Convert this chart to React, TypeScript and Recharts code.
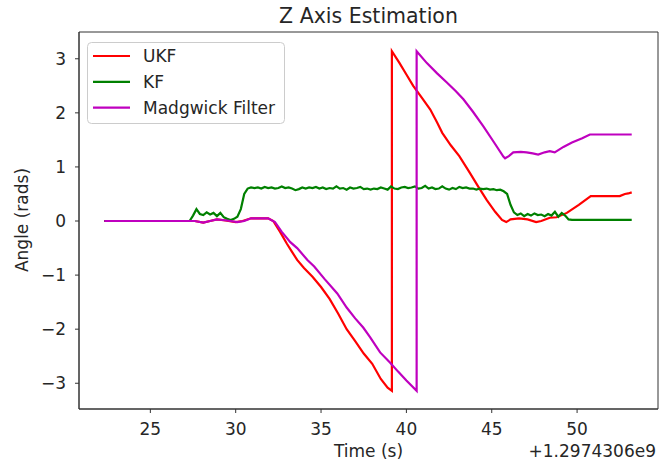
import { Legend, Line, LineChart, ReferenceArea, XAxis, YAxis } from 'recharts'

const FONT = '"DejaVu Sans", sans-serif'

// time stamps are seconds after the +1.2974306e9 offset
const ukfTime = [22.3, 27.6, 28.1, 28.5, 28.9, 29.4, 30.0, 30.4, 30.9, 31.9, 32.2, 32.6, 33.0, 33.3, 33.6, 34.0, 34.5, 35.0, 35.5, 36.0, 36.5, 37.0, 37.5, 38.0, 38.5, 38.9, 39.15,
  39.15, 39.6, 40.0, 40.4, 40.9, 41.4, 41.8, 42.1, 42.6, 43.1, 43.7, 44.2, 44.7, 45.2, 45.6, 45.85, 46.1, 46.6, 47.1, 47.6, 47.9, 48.4, 48.8, 49.4, 50.1, 50.8, 52.5, 52.8, 53.0, 53.2]
const ukfAngle = [0, 0, -0.03, 0, 0.03, 0.01, -0.02, 0, 0.05, 0.05, 0, -0.2, -0.42, -0.57, -0.72, -0.87, -1.03, -1.22, -1.44, -1.71, -2.0, -2.22, -2.45, -2.64, -2.92, -3.08, -3.14,
  3.14, 2.92, 2.71, 2.5, 2.28, 2.06, 1.82, 1.63, 1.4, 1.2, 0.9, 0.64, 0.39, 0.17, 0.02, -0.02, 0.03, 0.05, 0.03, -0.02, 0, 0.06, 0.07, 0.15, 0.3, 0.46, 0.46, 0.5, 0.51, 0.53]

const kfTime = [22.3, 27.3, 27.5, 27.7, 27.9, 28.1, 28.3, 28.5, 28.7, 28.9, 29.1, 29.3, 29.5, 29.7, 29.9, 30.1, 30.3, 30.5, 30.7, 30.9,
  31.1, 31.3, 31.5, 31.7, 31.9, 32.1, 32.3, 32.5, 32.7, 32.9, 33.1, 33.3, 33.5, 33.7, 33.9, 34.1, 34.3, 34.5, 34.7, 34.9,
  35.1, 35.3, 35.5, 35.7, 35.9, 36.1, 36.3, 36.5, 36.7, 36.9, 37.1, 37.3, 37.5, 37.7, 37.9, 38.1, 38.3, 38.5, 38.7, 38.9,
  39.1, 39.3, 39.5, 39.7, 39.9, 40.1, 40.3, 40.5, 40.7, 40.9, 41.1, 41.3, 41.5, 41.7, 41.9, 42.1, 42.3, 42.5, 42.7, 42.9,
  43.1, 43.3, 43.5, 43.7, 43.9, 44.1, 44.3, 44.5, 44.7, 44.9, 45.1, 45.3, 45.5, 45.7, 45.9, 46.1, 46.3, 46.5, 46.7, 46.9,
  47.1, 47.3, 47.5, 47.7, 47.9, 48.1, 48.3, 48.5, 48.7, 48.9, 49.1, 49.3, 49.5, 49.7, 53.2]
const kfAngle = [0, 0, 0.1, 0.22, 0.13, 0.11, 0.16, 0.12, 0.15, 0.09, 0.15, 0.07, 0.04, 0.02, 0.04, 0.08, 0.22, 0.5, 0.6, 0.62,
  0.61, 0.62, 0.6, 0.63, 0.61, 0.62, 0.6, 0.61, 0.64, 0.61, 0.62, 0.6, 0.57, 0.59, 0.62, 0.6, 0.62, 0.61, 0.63, 0.6,
  0.62, 0.59, 0.61, 0.6, 0.64, 0.6, 0.61, 0.58, 0.62, 0.6, 0.61, 0.63, 0.59, 0.6, 0.58, 0.6, 0.59, 0.62, 0.6, 0.58,
  0.64, 0.6, 0.59, 0.62, 0.63, 0.61, 0.62, 0.64, 0.6, 0.61, 0.65, 0.6, 0.62, 0.59, 0.6, 0.64, 0.6, 0.58, 0.61, 0.59,
  0.63, 0.61, 0.62, 0.6, 0.6, 0.58, 0.6, 0.59, 0.6, 0.58, 0.59, 0.57, 0.58, 0.55, 0.5, 0.3, 0.16, 0.11, 0.14, 0.09,
  0.13, 0.1, 0.14, 0.11, 0.12, 0.09, 0.13, 0.1, 0.17, 0.08, 0.15, 0.1, 0.03, 0.02, 0.02]

const madgTime = [22.3, 27.6, 28.1, 28.5, 28.9, 29.5, 30.1, 30.5, 30.9, 31.9, 32.3, 32.7, 33.2, 33.6, 34.2, 34.6, 35.2, 35.95, 36.5, 37.0, 37.47, 37.88, 38.46, 39.05, 39.5, 40.0, 40.6,
  40.6, 41.2, 41.8, 42.37, 42.9, 43.34, 43.9, 44.51, 45.1, 45.68, 45.78, 46.0, 46.26, 46.7, 47.04, 47.4, 47.72, 48.1, 48.4, 48.69, 49.2, 49.7, 50.3, 50.75, 53.2]
const madgAngle = [0, 0, -0.03, 0, 0.03, 0.01, -0.02, 0, 0.05, 0.05, -0.02, -0.2, -0.39, -0.5, -0.72, -0.84, -1.07, -1.34, -1.6, -1.8, -1.97, -2.15, -2.43, -2.62, -2.78, -2.95, -3.14,
  3.14, 2.92, 2.73, 2.56, 2.4, 2.25, 2.02, 1.75, 1.47, 1.19, 1.16, 1.2, 1.27, 1.28, 1.27, 1.25, 1.23, 1.27, 1.29, 1.27, 1.37, 1.45, 1.53, 1.6, 1.6]

const xTicks = [25, 30, 35, 40, 45, 50]
const yTicks = [-3, -2, -1, 0, 1, 2, 3]
const xDomain = [20.82, 54.74]
const yDomain = [-3.476, 3.495]

const series = [
  { name: 'UKF', color: '#ff0000', time: ukfTime, angle: ukfAngle },
  { name: 'KF', color: '#008000', time: kfTime, angle: kfAngle },
  { name: 'Madgwick Filter', color: '#bf00bf', time: madgTime, angle: madgAngle },
]

const toPoints = (time: number[], angle: number[]) => time.map((t, i) => ({ time: t, angle: angle[i] }))

const fmtTick = (v: number) => (v < 0 ? '\u2212' + Math.abs(v) : String(v))

function LegendBox() {
  return (
    <svg width={199} height={83} style={{ display: 'block' }}>
      <rect x={0.5} y={0.5} width={197} height={81} rx={4} fill="#fff" fillOpacity={0.8} stroke="#cccccc" />
      {series.map((s, i) => {
        const cy = 14 + i * 25.8
        return (
          <g key={s.name}>
            <line x1={6} x2={43} y1={cy} y2={cy} stroke={s.color} strokeWidth={2.2} />
            <text x={56} y={cy + 6} fontSize={17} fontFamily={FONT} fill="#262626">{s.name}</text>
          </g>
        )
      })}
    </svg>
  )
}

function XLabel(props: any) {
  const { x, y, width } = props.viewBox
  return (
    <g fontFamily={FONT} fontSize={17} fill="#262626">
      <text x={x + width / 2} y={y + 48} textAnchor="middle">Time (s)</text>
      <text x={x + width - 2} y={y + 48} textAnchor="end">+1.2974306e9</text>
    </g>
  )
}

function YLabel() {
  return (
    <text x={28} y={220} transform="rotate(-90 28 220)" textAnchor="middle" fontFamily={FONT} fontSize={17} fill="#262626">
      Angle (rads)
    </text>
  )
}

export default function App() {
  return (
    <div style={{ position: 'absolute', left: 0, top: 0, width: 670, height: 465, background: '#fff' }}>
      <svg width={670} height={30} style={{ position: 'absolute', left: 0, top: 0 }}>
        <text x={368.5} y={23} textAnchor="middle" fontFamily={FONT} fontSize={20.5} fill="#262626">Z Axis Estimation</text>
      </svg>
      <LineChart width={670} height={465} margin={{ top: 32, right: 12, bottom: 0, left: 0 }}>
        <XAxis
          dataKey="time"
          type="number"
          domain={xDomain}
          ticks={xTicks}
          allowDataOverflow
          height={56}
          tickSize={4}
          tickMargin={10}
          stroke="#333"
          tick={{ fill: '#262626', fontSize: 17, fontFamily: FONT }}
          label={XLabel}
        />
        <YAxis
          type="number"
          domain={yDomain}
          ticks={yTicks}
          allowDataOverflow
          width={79}
          tickSize={4}
          tickMargin={9}
          stroke="#333"
          tickFormatter={fmtTick}
          tick={{ fill: '#262626', fontSize: 17, fontFamily: FONT }}
          label={YLabel}
        />
        <ReferenceArea x1={xDomain[0]} x2={xDomain[1]} y1={yDomain[0]} y2={yDomain[1]} fill="none" stroke="#333" ifOverflow="visible" />
        {series.map(s => (
          <Line
            key={s.name}
            data={toPoints(s.time, s.angle)}
            dataKey="angle"
            name={s.name}
            type="linear"
            stroke={s.color}
            strokeWidth={2.2}
            dot={false}
            activeDot={false}
            isAnimationActive={false}
          />
        ))}
        <Legend
          layout="horizontal"
          verticalAlign="middle"
          align="center"
          content={() => <LegendBox />}
          wrapperStyle={{ top: 42, left: 87, width: 199, height: 83 }}
        />
      </LineChart>
    </div>
  )
}
